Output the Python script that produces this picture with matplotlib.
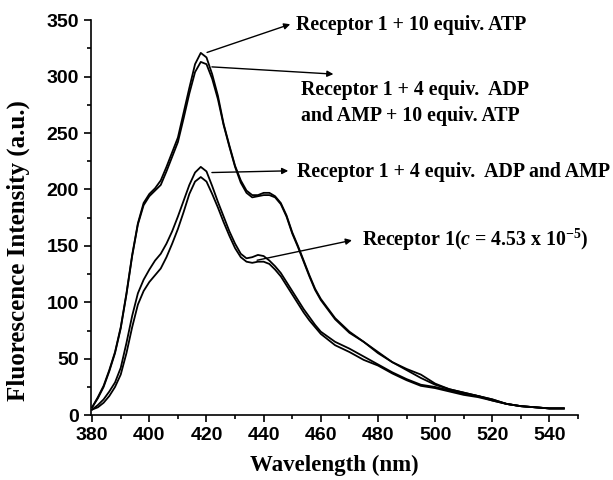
#import library
import numpy as np
import matplotlib
matplotlib.use('Agg')
import matplotlib.pyplot as plt
from matplotlib.ticker import MultipleLocator

#wavelength grid (nm)
wavelength = [380, 382, 384, 386, 388, 390, 392, 394, 396, 398,
              400, 402, 404, 406, 408, 410, 412, 414, 416, 418,
              420, 422, 424, 426, 428, 430, 432, 434, 436, 438,
              440, 442, 444, 446, 448, 450, 452, 454, 456, 458,
              460, 465, 470, 475, 480, 485, 490, 495, 500, 505,
              510, 515, 520, 525, 530, 535, 540, 545]

#receptor 1 + 10 equiv. ATP
atp = [7, 16, 26, 40, 56, 78, 108, 142, 170, 188,
       196, 201, 208, 220, 233, 246, 268, 290, 311, 321,
       317, 302, 283, 258, 239, 221, 208, 199, 195, 195,
       197, 197, 194, 188, 177, 162, 150, 137, 124, 112,
       103, 86, 74, 65, 56, 47, 41, 36, 28, 23,
       20, 17, 14, 10, 8, 7, 6, 6]

#receptor 1 + 4 equiv. ADP and AMP + 10 equiv. ATP
adp_amp_atp = [7, 15, 25, 39, 55, 77, 107, 141, 169, 186,
               194, 199, 204, 216, 229, 242, 263, 285, 304, 313,
               311, 298, 280, 257, 238, 220, 206, 197, 193, 194,
               195, 195, 193, 187, 176, 161, 149, 136, 123, 111,
               102, 85, 73, 65, 55, 47, 40, 33, 27, 23,
               20, 17, 13, 10, 8, 7, 6, 6]

#receptor 1 + 4 equiv. ADP and AMP
adp_amp = [5, 9, 14, 21, 29, 42, 64, 88, 108, 120,
           129, 137, 143, 152, 163, 176, 190, 204, 215, 220,
           216, 203, 189, 176, 163, 152, 143, 139, 140, 142,
           141, 137, 132, 126, 118, 110, 102, 94, 87, 80,
           74, 65, 59, 52, 45, 38, 32, 27, 25, 22,
           19, 17, 14, 10, 8, 7, 6, 6]

#receptor 1 alone
receptor = [5, 7, 11, 17, 25, 36, 55, 78, 98, 110,
            118, 124, 130, 140, 152, 165, 180, 196, 207, 211,
            207, 196, 184, 171, 159, 148, 140, 136, 135, 136,
            136, 134, 129, 123, 115, 107, 99, 91, 84, 78,
            72, 62, 56, 49, 44, 37, 31, 26, 24, 21,
            18, 16, 13, 10, 8, 7, 6, 6]

plt.rcParams['mathtext.fontset'] = 'custom'
plt.rcParams['mathtext.rm'] = 'Liberation Serif:bold'
plt.rcParams['mathtext.it'] = 'Liberation Serif:italic:bold'
plt.rcParams['mathtext.bf'] = 'Liberation Serif:bold'

fig = plt.figure(figsize=(6.13, 4.80), dpi=100)
ax = fig.add_axes([0.148, 0.135, 0.795, 0.823])

for series in [atp, adp_amp_atp, adp_amp, receptor]:
    ax.plot(wavelength, series, color='black', lw=1.3)

ax.set_xlim(379.5, 550)
ax.set_ylim(0, 350)
ax.xaxis.set_major_locator(MultipleLocator(20))
ax.xaxis.set_minor_locator(MultipleLocator(10))
ax.yaxis.set_major_locator(MultipleLocator(50))
ax.yaxis.set_minor_locator(MultipleLocator(25))
ax.spines['top'].set_visible(False)
ax.spines['right'].set_visible(False)
for s in ['left', 'bottom']:
    ax.spines[s].set_linewidth(1.2)
ax.tick_params(which='major', length=5, width=1.2, direction='out')
ax.tick_params(which='minor', length=3, width=1.2, direction='out')
for lab in ax.get_xticklabels() + ax.get_yticklabels():
    lab.set_fontfamily('Liberation Sans')
    lab.set_fontweight('bold')
    lab.set_fontsize(14)

ax.set_xlabel('Wavelength (nm)', family='Liberation Serif', weight='bold', fontsize=16.5)
ax.set_ylabel('Fluorescence Intensity (a.u.)', family='Liberation Serif', weight='bold', fontsize=18)
ax.xaxis.set_label_coords(0.5, -0.1)
ax.yaxis.set_label_coords(-0.125, 0.418)

#annotations with arrows
txt = dict(family='Liberation Serif', weight='bold', fontsize=14.3, va='center', ha='left')
arw = dict(arrowstyle='-|>', color='black', lw=1.0, mutation_scale=9, shrinkA=0, shrinkB=0)

ax.annotate('', xy=(449.3, 346.4), xytext=(420.2, 321.4), arrowprops=arw, annotation_clip=False)
ax.text(451.4, 346, 'Receptor 1 + 10 equiv. ATP', clip_on=False, **txt)

ax.annotate('', xy=(464.4, 302.2), xytext=(421.9, 308.6), arrowprops=arw, annotation_clip=False)
ax.text(453.1, 276.5, 'Receptor 1 + 4 equiv.  ADP\nand AMP + 10 equiv. ATP', clip_on=False,
        linespacing=1.4, **txt)

ax.annotate('', xy=(448.6, 216.5), xytext=(421.9, 215), arrowprops=arw, annotation_clip=False)
ax.text(451.7, 215.6, 'Receptor 1 + 4 equiv.  ADP and AMP', clip_on=False, **txt)

ax.annotate('', xy=(470.9, 155), xytext=(437.7, 137.3), arrowprops=arw, annotation_clip=False)
ax.text(474.4, 155, r'Receptor 1($c$ = 4.53 x 10$^{-5}$)', clip_on=False, **txt)

fig.savefig('out.png', dpi=100)
